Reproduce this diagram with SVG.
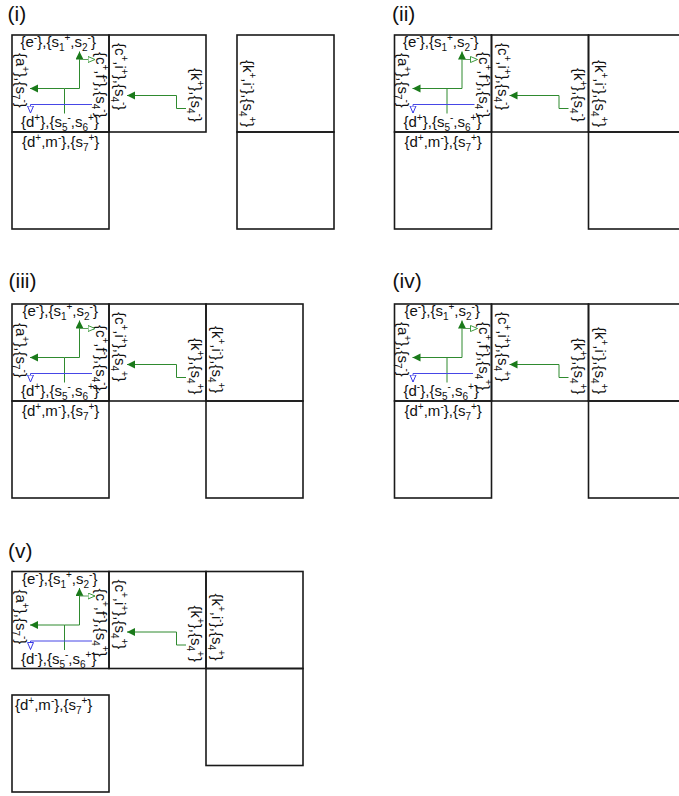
<svg xmlns="http://www.w3.org/2000/svg" width="679" height="796" viewBox="0 0 679 796">
<style>
.bx{fill:none;stroke:#1a1a1a;stroke-width:1.6}
.t{font-family:"Liberation Sans",Arial,sans-serif;font-size:15px;fill:#111}
.p{font-size:10px}
.pl{font-family:"Liberation Sans",Arial,sans-serif;font-size:21px;fill:#111}
.g{fill:none;stroke:#2f8a2f;stroke-width:1}
.gf{fill:none;stroke:#2f8a2f;stroke-width:1;marker-end:url(#af)}
.gh{fill:none;stroke:#5a9e5a;stroke-width:1;marker-end:url(#ah)}
.bl{fill:none;stroke:#4646e6;stroke-width:1;marker-end:url(#ab)}
</style>
<defs>
<marker id="af" markerUnits="userSpaceOnUse" markerWidth="9" markerHeight="9" refX="8" refY="4" orient="auto"><path d="M0,0 L8,4 L0,8 z" fill="#1a7a1a"/></marker>
<marker id="ah" markerUnits="userSpaceOnUse" markerWidth="9" markerHeight="9" refX="7.5" refY="3.5" orient="auto"><path d="M0.5,0.5 L7.5,3.5 L0.5,6.5 z" fill="#fff" stroke="#3f9a3f" stroke-width="1"/></marker>
<marker id="ab" markerUnits="userSpaceOnUse" markerWidth="9" markerHeight="9" refX="7.5" refY="3.5" orient="auto"><path d="M0.5,0.5 L7.5,3.5 L0.5,6.5 z" fill="#fff" stroke="#3a3ae6" stroke-width="1"/></marker>
</defs>
<rect width="679" height="796" fill="#fff"/>

<text class="pl" x="7.5" y="21">(i)</text>
<text class="pl" x="392" y="21">(ii)</text>
<text class="pl" x="8.5" y="287.5">(iii)</text>
<text class="pl" x="392.5" y="287.5">(iv)</text>
<text class="pl" x="8" y="558">(v)</text>

<!-- Panel (i) -->
<g id="panel-i" transform="translate(12,35)">
<g id="i-main"><rect class="bx" x="0" y="0" width="97" height="97"/>
<text class="t" x="8.5" y="12">{e<tspan class="p" dy="-6">-</tspan><tspan dy="6">},{s</tspan><tspan class="p" dy="4">1</tspan><tspan class="p" dy="-10">+</tspan><tspan dy="6">,s</tspan><tspan class="p" dy="4">2</tspan><tspan class="p" dy="-10">-</tspan><tspan dy="6">}</tspan></text>
<text class="t" transform="translate(3.5,18) rotate(90)">{a<tspan class="p" dy="-6">+</tspan><tspan dy="6">},{s</tspan><tspan class="p" dy="4">7</tspan><tspan class="p" dy="-10">-</tspan><tspan dy="6">}</tspan></text>
<text class="t" transform="translate(84,17) rotate(90)">{c<tspan class="p" dy="-6">+</tspan><tspan dy="6">,f</tspan><tspan class="p" dy="-6">-</tspan><tspan dy="6">},{s</tspan><tspan class="p" dy="4">4</tspan><tspan class="p" dy="-10">-</tspan><tspan dy="6">}</tspan></text>
<text class="t" x="9" y="92">{d<tspan class="p" dy="-6">+</tspan><tspan dy="6">},{s</tspan><tspan class="p" dy="4">5</tspan><tspan class="p" dy="-10">-</tspan><tspan dy="6">,s</tspan><tspan class="p" dy="4">6</tspan><tspan class="p" dy="-10">+</tspan><tspan dy="6">}</tspan></text>
</g>
<g id="i-ci"><rect class="bx" x="97" y="0" width="97" height="97"/>
<text class="t" transform="translate(103,8) rotate(90)">{c<tspan class="p" dy="-6">+</tspan><tspan dy="6">,i</tspan><tspan class="p" dy="-6">+</tspan><tspan dy="6">},{s</tspan><tspan class="p" dy="4">4</tspan><tspan class="p" dy="-10">-</tspan><tspan dy="6">}</tspan></text>
<text class="t" transform="translate(179,33) rotate(90)">{k<tspan class="p" dy="-6">+</tspan><tspan dy="6">},{s</tspan><tspan class="p" dy="4">4</tspan><tspan class="p" dy="-10">-</tspan><tspan dy="6">}</tspan></text>
</g>
<g id="i-dm"><rect class="bx" x="0" y="97" width="97" height="97"/>
<text class="t" x="10" y="111.5">{d<tspan class="p" dy="-6">+</tspan><tspan dy="6">,m</tspan><tspan class="p" dy="-6">-</tspan><tspan dy="6">},{s</tspan><tspan class="p" dy="4">7</tspan><tspan class="p" dy="-10">+</tspan><tspan dy="6">}</tspan></text>
</g>
<g id="i-ki"><rect class="bx" x="225" y="0" width="97" height="97"/>
<text class="t" transform="translate(231,25) rotate(90)">{k<tspan class="p" dy="-6">+</tspan><tspan dy="6">,i</tspan><tspan class="p" dy="-6">-</tspan><tspan dy="6">},{s</tspan><tspan class="p" dy="4">4</tspan><tspan class="p" dy="-10">+</tspan><tspan dy="6">}</tspan></text>
</g>
<g id="i-empty"><rect class="bx" x="225" y="97" width="97" height="97"/></g>
<g id="i-connectors">
<path class="g" d="M52.5,78.5 V53.5 H67.5"/>
<path class="gf" d="M52.5,53.5 H18"/>
<path class="gf" d="M67.5,53.5 V16.5"/>
<path class="gh" d="M67.5,24.5 H83"/>
<path class="bl" d="M80,69.5 H18.5 V78"/>
<path class="gf" d="M174,73.5 H164.5 V60.5 H115"/>
</g>
</g>

<!-- Panel (ii) -->
<g id="panel-ii" transform="translate(394.5,35)">
<g id="ii-main"><rect class="bx" x="0" y="0" width="97" height="97"/>
<text class="t" x="8.5" y="12">{e<tspan class="p" dy="-6">-</tspan><tspan dy="6">},{s</tspan><tspan class="p" dy="4">1</tspan><tspan class="p" dy="-10">+</tspan><tspan dy="6">,s</tspan><tspan class="p" dy="4">2</tspan><tspan class="p" dy="-10">-</tspan><tspan dy="6">}</tspan></text>
<text class="t" transform="translate(3.5,18) rotate(90)">{a<tspan class="p" dy="-6">+</tspan><tspan dy="6">},{s</tspan><tspan class="p" dy="4">7</tspan><tspan class="p" dy="-10">-</tspan><tspan dy="6">}</tspan></text>
<text class="t" transform="translate(84,17) rotate(90)">{c<tspan class="p" dy="-6">+</tspan><tspan dy="6">,f</tspan><tspan class="p" dy="-6">-</tspan><tspan dy="6">},{s</tspan><tspan class="p" dy="4">4</tspan><tspan class="p" dy="-10">-</tspan><tspan dy="6">}</tspan></text>
<text class="t" x="9" y="92">{d<tspan class="p" dy="-6">+</tspan><tspan dy="6">},{s</tspan><tspan class="p" dy="4">5</tspan><tspan class="p" dy="-10">-</tspan><tspan dy="6">,s</tspan><tspan class="p" dy="4">6</tspan><tspan class="p" dy="-10">+</tspan><tspan dy="6">}</tspan></text>
</g>
<g id="ii-ci"><rect class="bx" x="97" y="0" width="97" height="97"/>
<text class="t" transform="translate(103,8) rotate(90)">{c<tspan class="p" dy="-6">+</tspan><tspan dy="6">,i</tspan><tspan class="p" dy="-6">+</tspan><tspan dy="6">},{s</tspan><tspan class="p" dy="4">4</tspan><tspan class="p" dy="-10">-</tspan><tspan dy="6">}</tspan></text>
<text class="t" transform="translate(179,33) rotate(90)">{k<tspan class="p" dy="-6">+</tspan><tspan dy="6">},{s</tspan><tspan class="p" dy="4">4</tspan><tspan class="p" dy="-10">-</tspan><tspan dy="6">}</tspan></text>
</g>
<g id="ii-ki"><rect class="bx" x="194" y="0" width="97" height="97"/>
<text class="t" transform="translate(200,25) rotate(90)">{k<tspan class="p" dy="-6">+</tspan><tspan dy="6">,i</tspan><tspan class="p" dy="-6">-</tspan><tspan dy="6">},{s</tspan><tspan class="p" dy="4">4</tspan><tspan class="p" dy="-10">+</tspan><tspan dy="6">}</tspan></text>
</g>
<g id="ii-dm"><rect class="bx" x="0" y="97" width="97" height="97"/>
<text class="t" x="10" y="111.5">{d<tspan class="p" dy="-6">+</tspan><tspan dy="6">,m</tspan><tspan class="p" dy="-6">-</tspan><tspan dy="6">},{s</tspan><tspan class="p" dy="4">7</tspan><tspan class="p" dy="-10">+</tspan><tspan dy="6">}</tspan></text>
</g>
<g id="ii-empty"><rect class="bx" x="194" y="97" width="97" height="97"/></g>
<g id="ii-connectors">
<path class="g" d="M52.5,78.5 V53.5 H67.5"/>
<path class="gf" d="M52.5,53.5 H18"/>
<path class="gf" d="M67.5,53.5 V16.5"/>
<path class="gh" d="M67.5,24.5 H83"/>
<path class="bl" d="M80,69.5 H18.5 V78"/>
<path class="gf" d="M174,73.5 H164.5 V60.5 H115"/>
</g>
</g>

<!-- Panel (iii) -->
<g id="panel-iii" transform="translate(12,304)">
<g id="iii-main"><rect class="bx" x="0" y="0" width="97" height="97"/>
<text class="t" x="10.5" y="12">{e<tspan class="p" dy="-6">-</tspan><tspan dy="6">},{s</tspan><tspan class="p" dy="4">1</tspan><tspan class="p" dy="-10">+</tspan><tspan dy="6">,s</tspan><tspan class="p" dy="4">2</tspan><tspan class="p" dy="-10">-</tspan><tspan dy="6">}</tspan></text>
<text class="t" transform="translate(3.5,19) rotate(90)">{a<tspan class="p" dy="-6">+</tspan><tspan dy="6">},{s</tspan><tspan class="p" dy="4">7</tspan><tspan class="p" dy="-10">-</tspan><tspan dy="6">}</tspan></text>
<text class="t" transform="translate(84,21) rotate(90)">{c<tspan class="p" dy="-6">+</tspan><tspan dy="6">,f</tspan><tspan class="p" dy="-6">-</tspan><tspan dy="6">},{s</tspan><tspan class="p" dy="4">4</tspan><tspan class="p" dy="-10">-</tspan><tspan dy="6">}</tspan></text>
<text class="t" x="9" y="92">{d<tspan class="p" dy="-6">+</tspan><tspan dy="6">},{s</tspan><tspan class="p" dy="4">5</tspan><tspan class="p" dy="-10">-</tspan><tspan dy="6">,s</tspan><tspan class="p" dy="4">6</tspan><tspan class="p" dy="-10">+</tspan><tspan dy="6">}</tspan></text>
</g>
<g id="iii-ci"><rect class="bx" x="97" y="0" width="97" height="97"/>
<text class="t" transform="translate(103,8) rotate(90)">{c<tspan class="p" dy="-6">+</tspan><tspan dy="6">,i</tspan><tspan class="p" dy="-6">+</tspan><tspan dy="6">},{s</tspan><tspan class="p" dy="4">4</tspan><tspan class="p" dy="-10">+</tspan><tspan dy="6">}</tspan></text>
<text class="t" transform="translate(179,34) rotate(90)">{k<tspan class="p" dy="-6">+</tspan><tspan dy="6">},{s</tspan><tspan class="p" dy="4">4</tspan><tspan class="p" dy="-10">+</tspan><tspan dy="6">}</tspan></text>
</g>
<g id="iii-ki"><rect class="bx" x="194" y="0" width="97" height="97"/>
<text class="t" transform="translate(199.5,22) rotate(90)">{k<tspan class="p" dy="-6">+</tspan><tspan dy="6">,i</tspan><tspan class="p" dy="-6">-</tspan><tspan dy="6">},{s</tspan><tspan class="p" dy="4">4</tspan><tspan class="p" dy="-10">+</tspan><tspan dy="6">}</tspan></text>
</g>
<g id="iii-dm"><rect class="bx" x="0" y="97" width="97" height="97"/>
<text class="t" x="10" y="111.5">{d<tspan class="p" dy="-6">+</tspan><tspan dy="6">,m</tspan><tspan class="p" dy="-6">-</tspan><tspan dy="6">},{s</tspan><tspan class="p" dy="4">7</tspan><tspan class="p" dy="-10">+</tspan><tspan dy="6">}</tspan></text>
</g>
<g id="iii-empty"><rect class="bx" x="194" y="97" width="97" height="97"/></g>
<g id="iii-connectors">
<path class="g" d="M52.5,78.5 V53.5 H67.5"/>
<path class="gf" d="M52.5,53.5 H18"/>
<path class="gf" d="M67.5,53.5 V16.5"/>
<path class="gh" d="M67.5,24.5 H83"/>
<path class="bl" d="M80,69.5 H18.5 V78"/>
<path class="gf" d="M174,73.5 H164.5 V60.5 H115"/>
</g>
</g>

<!-- Panel (iv) -->
<g id="panel-iv" transform="translate(394.5,304)">
<g id="iv-main"><rect class="bx" x="0" y="0" width="97" height="97"/>
<text class="t" x="10" y="12">{e<tspan class="p" dy="-6">-</tspan><tspan dy="6">},{s</tspan><tspan class="p" dy="4">1</tspan><tspan class="p" dy="-10">+</tspan><tspan dy="6">,s</tspan><tspan class="p" dy="4">2</tspan><tspan class="p" dy="-10">-</tspan><tspan dy="6">}</tspan></text>
<text class="t" transform="translate(3.5,18) rotate(90)">{a<tspan class="p" dy="-6">+</tspan><tspan dy="6">},{s</tspan><tspan class="p" dy="4">7</tspan><tspan class="p" dy="-10">-</tspan><tspan dy="6">}</tspan></text>
<text class="t" transform="translate(84,18) rotate(90)">{c<tspan class="p" dy="-6">+</tspan><tspan dy="6">,f</tspan><tspan class="p" dy="-6">-</tspan><tspan dy="6">},{s</tspan><tspan class="p" dy="4">4</tspan><tspan class="p" dy="-10">+</tspan><tspan dy="6">}</tspan></text>
<text class="t" x="9" y="92">{d<tspan class="p" dy="-6">-</tspan><tspan dy="6">},{s</tspan><tspan class="p" dy="4">5</tspan><tspan class="p" dy="-10">-</tspan><tspan dy="6">,s</tspan><tspan class="p" dy="4">6</tspan><tspan class="p" dy="-10">+</tspan><tspan dy="6">}</tspan></text>
</g>
<g id="iv-ci"><rect class="bx" x="97" y="0" width="97" height="97"/>
<text class="t" transform="translate(103,8) rotate(90)">{c<tspan class="p" dy="-6">+</tspan><tspan dy="6">,i</tspan><tspan class="p" dy="-6">+</tspan><tspan dy="6">},{s</tspan><tspan class="p" dy="4">4</tspan><tspan class="p" dy="-10">+</tspan><tspan dy="6">}</tspan></text>
<text class="t" transform="translate(179,34) rotate(90)">{k<tspan class="p" dy="-6">+</tspan><tspan dy="6">},{s</tspan><tspan class="p" dy="4">4</tspan><tspan class="p" dy="-10">+</tspan><tspan dy="6">}</tspan></text>
</g>
<g id="iv-ki"><rect class="bx" x="194" y="0" width="97" height="97"/>
<text class="t" transform="translate(200,23) rotate(90)">{k<tspan class="p" dy="-6">+</tspan><tspan dy="6">,i</tspan><tspan class="p" dy="-6">-</tspan><tspan dy="6">},{s</tspan><tspan class="p" dy="4">4</tspan><tspan class="p" dy="-10">+</tspan><tspan dy="6">}</tspan></text>
</g>
<g id="iv-dm"><rect class="bx" x="0" y="97" width="97" height="97"/>
<text class="t" x="10" y="111.5">{d<tspan class="p" dy="-6">+</tspan><tspan dy="6">,m</tspan><tspan class="p" dy="-6">-</tspan><tspan dy="6">},{s</tspan><tspan class="p" dy="4">7</tspan><tspan class="p" dy="-10">+</tspan><tspan dy="6">}</tspan></text>
</g>
<g id="iv-empty"><rect class="bx" x="194" y="97" width="97" height="97"/></g>
<g id="iv-connectors">
<path class="g" d="M52.5,78.5 V53.5 H67.5"/>
<path class="gf" d="M52.5,53.5 H18"/>
<path class="gf" d="M67.5,53.5 V16.5"/>
<path class="gh" d="M67.5,24.5 H83"/>
<path class="bl" d="M78.5,69.5 H18.5 V78"/>
<path class="gf" d="M174,73.5 H164.5 V60.5 H115"/>
</g>
</g>

<!-- Panel (v) -->
<g id="panel-v" transform="translate(12,571.5)">
<g id="v-main"><rect class="bx" x="0" y="0" width="97" height="97"/>
<text class="t" x="10" y="12">{e<tspan class="p" dy="-6">-</tspan><tspan dy="6">},{s</tspan><tspan class="p" dy="4">1</tspan><tspan class="p" dy="-10">+</tspan><tspan dy="6">,s</tspan><tspan class="p" dy="4">2</tspan><tspan class="p" dy="-10">-</tspan><tspan dy="6">}</tspan></text>
<text class="t" transform="translate(3.5,18) rotate(90)">{a<tspan class="p" dy="-6">+</tspan><tspan dy="6">},{s</tspan><tspan class="p" dy="4">7</tspan><tspan class="p" dy="-10">-</tspan><tspan dy="6">}</tspan></text>
<text class="t" transform="translate(84,17) rotate(90)">{c<tspan class="p" dy="-6">+</tspan><tspan dy="6">,f</tspan><tspan class="p" dy="-6">-</tspan><tspan dy="6">},{s</tspan><tspan class="p" dy="4">4</tspan><tspan class="p" dy="-10">+</tspan><tspan dy="6">}</tspan></text>
<text class="t" x="9" y="92">{d<tspan class="p" dy="-6">-</tspan><tspan dy="6">},{s</tspan><tspan class="p" dy="4">5</tspan><tspan class="p" dy="-10">-</tspan><tspan dy="6">,s</tspan><tspan class="p" dy="4">6</tspan><tspan class="p" dy="-10">+</tspan><tspan dy="6">}</tspan></text>
</g>
<g id="v-ci"><rect class="bx" x="97" y="0" width="97" height="97"/>
<text class="t" transform="translate(103,8) rotate(90)">{c<tspan class="p" dy="-6">+</tspan><tspan dy="6">,i</tspan><tspan class="p" dy="-6">+</tspan><tspan dy="6">},{s</tspan><tspan class="p" dy="4">4</tspan><tspan class="p" dy="-10">+</tspan><tspan dy="6">}</tspan></text>
<text class="t" transform="translate(179,34) rotate(90)">{k<tspan class="p" dy="-6">+</tspan><tspan dy="6">},{s</tspan><tspan class="p" dy="4">4</tspan><tspan class="p" dy="-10">+</tspan><tspan dy="6">}</tspan></text>
</g>
<g id="v-ki"><rect class="bx" x="194" y="0" width="97" height="97"/>
<text class="t" transform="translate(200,22) rotate(90)">{k<tspan class="p" dy="-6">+</tspan><tspan dy="6">,i</tspan><tspan class="p" dy="-6">-</tspan><tspan dy="6">},{s</tspan><tspan class="p" dy="4">4</tspan><tspan class="p" dy="-10">+</tspan><tspan dy="6">}</tspan></text>
</g>
<g id="v-empty"><rect class="bx" x="194" y="97" width="97" height="97"/></g>
<g id="v-dm"><rect class="bx" x="0" y="123.5" width="97" height="97"/>
<text class="t" x="3" y="138.5">{d<tspan class="p" dy="-6">+</tspan><tspan dy="6">,m</tspan><tspan class="p" dy="-6">-</tspan><tspan dy="6">},{s</tspan><tspan class="p" dy="4">7</tspan><tspan class="p" dy="-10">+</tspan><tspan dy="6">}</tspan></text>
</g>
<g id="v-connectors">
<path class="g" d="M52.5,78.5 V53.5 H67.5"/>
<path class="gf" d="M52.5,53.5 H18"/>
<path class="gf" d="M67.5,53.5 V16.5"/>
<path class="gh" d="M67.5,24.5 H83"/>
<path class="bl" d="M80,69.5 H18.5 V78"/>
<path class="gf" d="M174,73.5 H164.5 V60.5 H115"/>
</g>
</g>
</svg>
